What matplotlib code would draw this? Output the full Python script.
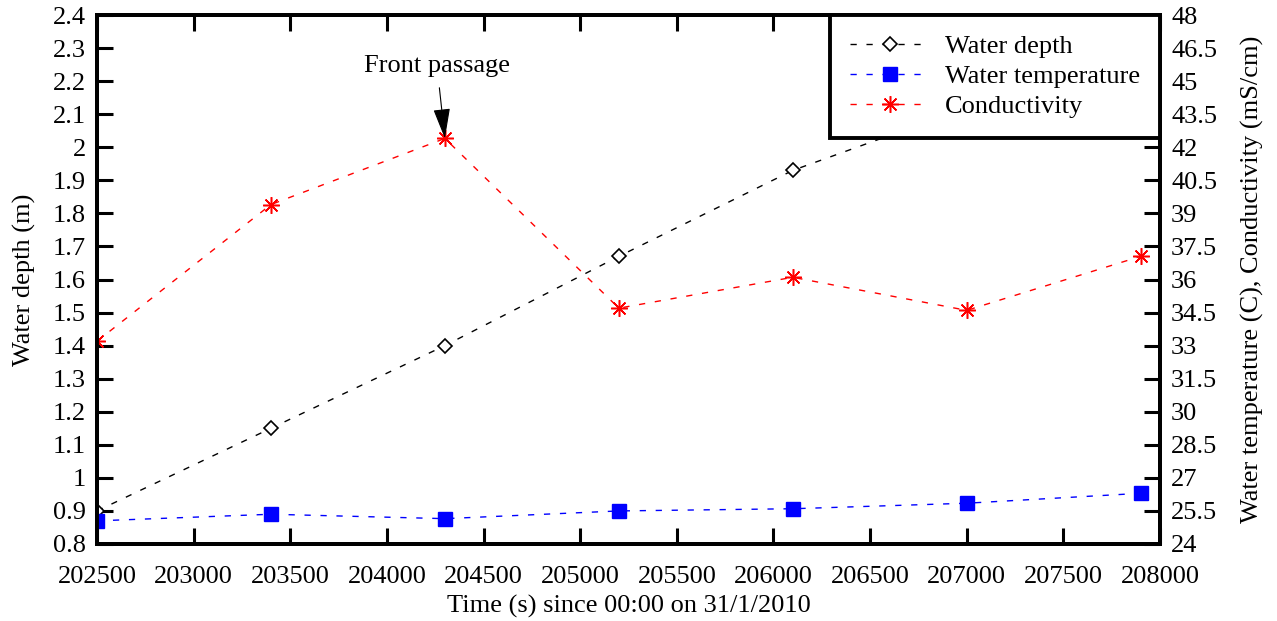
import matplotlib
matplotlib.use('Agg')
import matplotlib.pyplot as plt
from matplotlib import ticker
import numpy as np

# readings every 900 s
time_s = [202500, 203400, 204300, 205200, 206100, 207000, 207900]
depth_m = [0.90, 1.15, 1.40, 1.67, 1.93, 2.12, 2.30]
temp_c = [25.05, 25.35, 25.15, 25.5, 25.6, 25.85, 26.3]
cond_mscm = [33.2, 39.4, 42.4, 34.7, 36.1, 34.6, 37.05]

front_time = 204300
front_cond = 42.4

plt.rcParams['font.family'] = ['Liberation Serif', 'DejaVu Serif']
plt.rcParams['font.size'] = 19

fig = plt.figure(figsize=(12.77, 6.21), dpi=100)
ax = fig.add_axes([97/1277, 1 - 544/621, (1160-97)/1277, (544-15)/621])
ax2 = ax.twinx()

dash = (0, (4.5, 7))
l1, = ax.plot(time_s, depth_m, color='black', lw=1, linestyle=dash,
              marker='D', ms=7.5, mfc='white', mec='black', mew=1.2,
              label='Water depth')
l2, = ax2.plot(time_s, temp_c, color='blue', lw=1, linestyle=dash,
               marker='s', ms=10, mfc='blue', mec='blue',
               label='Water temperature')
l3, = ax2.plot(time_s, cond_mscm, color='red', lw=1, linestyle=dash,
               marker=(8, 2, 0), ms=12, mec='red', mew=1.1,
               label='Conductivity')

ax.set_xlim(202500, 208000)
ax.set_ylim(0.8, 2.4)
ax2.set_ylim(24, 48)
ax.set_xticks(np.arange(202500, 208001, 500))
ax.set_yticks(np.arange(0.8, 2.401, 0.1))
ax2.set_yticks(np.arange(24, 48.01, 1.5))
fmt = ticker.FuncFormatter(lambda v, p: '%g' % round(v, 2))
ax.xaxis.set_major_formatter(ticker.FuncFormatter(lambda v, p: '%d' % v))
ax.yaxis.set_major_formatter(fmt)
ax2.yaxis.set_major_formatter(fmt)

ax.tick_params(axis='x', direction='in', length=11.5, width=2.2, top=True, pad=16)
ax.tick_params(axis='y', direction='in', length=11.5, width=2.2, right=False, pad=8)
ax2.tick_params(axis='y', direction='in', length=11.5, width=2.2, pad=8)
for a in (ax, ax2):
    for s in a.spines.values():
        s.set_linewidth(2.8)

ax.set_xlabel('Time (s) since 00:00 on 31/1/2010', labelpad=5)
ax.set_ylabel('Water depth (m)', labelpad=12)
ax2.set_ylabel('Water temperature (C), Conductivity (mS/cm)', labelpad=17)

ax2.annotate('Front passage', xy=(front_time, front_cond),
             xytext=(204259, 45.7), ha='center', va='center',
             arrowprops=dict(arrowstyle='-|>,head_length=1.0,head_width=0.28',
                             color='black', lw=0.8, shrinkA=6, shrinkB=0))

leg = ax2.legend(handles=[l1, l2, l3], loc='upper right', borderaxespad=0,
                 fancybox=False, framealpha=1, edgecolor='black',
                 handlelength=3.0, handletextpad=0.6, labelspacing=0.25,
                 borderpad=0.75, numpoints=1)
leg.get_frame().set_linewidth(2.8)

fig.savefig('out.png', dpi=100)
